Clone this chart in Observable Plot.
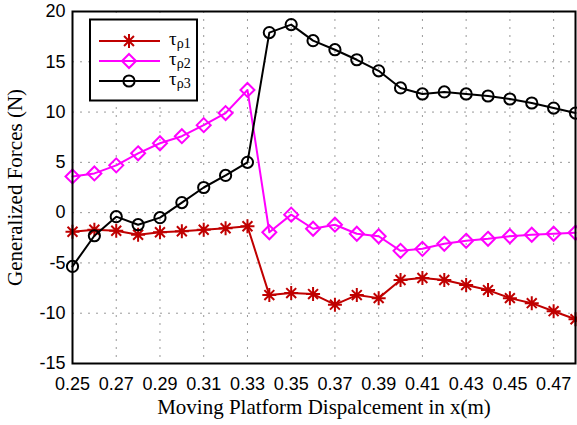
<!DOCTYPE html>
<html>
<head>
<meta charset="utf-8">
<script src="https://cdn.jsdelivr.net/npm/d3@7"></script>
<script src="https://cdn.jsdelivr.net/npm/@observablehq/plot@0.6"></script>
<style>
  body { margin: 0; background: #fff; }
  #wrap { position: relative; width: 577px; height: 425px; }
  #legend { position: absolute; left: 0; top: 0; }
  #wrap svg text { font-family: "Liberation Sans", Arial, sans-serif; }
  #wrap svg g[aria-label$="tick label"] { font-size: 18px; }
  #wrap svg text.serif, #wrap svg g.serif text { font-family: "Liberation Serif", "Times New Roman", serif; }
</style>
</head>
<body>
<div id="wrap"></div>
<script>
const xs = [0.25, 0.26, 0.27, 0.28, 0.29, 0.30, 0.31, 0.32, 0.33, 0.34, 0.35, 0.36,
            0.37, 0.38, 0.39, 0.40, 0.41, 0.42, 0.43, 0.44, 0.45, 0.46, 0.47, 0.48];
const tau1 = [-1.9, -1.7, -1.8, -2.2, -1.95, -1.85, -1.7, -1.55, -1.35, -8.2, -8.0, -8.1,
              -9.15, -8.2, -8.5, -6.7, -6.5, -6.7, -7.2, -7.7, -8.5, -9.0, -9.8, -10.6];
const tau2 = [3.6, 3.9, 4.7, 5.9, 6.9, 7.6, 8.7, 9.9, 12.2, -1.95, -0.2, -1.6,
              -1.2, -2.1, -2.35, -3.8, -3.6, -3.1, -2.8, -2.6, -2.35, -2.2, -2.1, -2.0];
const tau3 = [-5.35, -2.3, -0.4, -1.2, -0.5, 1.0, 2.5, 3.7, 5.0, 17.9, 18.7, 17.1,
              16.2, 15.2, 14.1, 12.4, 11.8, 12.0, 11.8, 11.6, 11.3, 10.9, 10.4, 9.9];
const xTicks = [0.25, 0.27, 0.29, 0.31, 0.33, 0.35, 0.37, 0.39, 0.41, 0.43, 0.45, 0.47];
const yTicks = [-15, -10, -5, 0, 5, 10, 15, 20];
const seriesNames = ["ρ1", "ρ2", "ρ3"];
const colors = ["#c00000", "#ff00ff", "#000000"];

const asterisk8 = {
  draw(ctx, size) {
    const r = Math.sqrt(size / Math.PI);
    for (let i = 0; i < 4; i++) {
      const a = i * Math.PI / 4;
      ctx.moveTo(r * Math.cos(a), r * Math.sin(a));
      ctx.lineTo(-r * Math.cos(a), -r * Math.sin(a));
    }
  }
};
const symbols = [asterisk8, "diamond2", "circle"];
const radii = [7, 6.3, 5.6];

const rows = (vals) => xs.map((x, i) => ({x, y: vals[i]}));
const datasets = [rows(tau1), rows(tau2), rows(tau3)];

const sans = "Liberation Sans";
const serif = "Liberation Serif";

const seriesMarks = datasets.flatMap((d, k) => [
  Plot.line(d, {x: "x", y: "y", stroke: colors[k], strokeWidth: 2}),
  Plot.dot(d, {x: "x", y: "y", symbol: () => symbols[k], r: radii[k], stroke: colors[k], fill: "none", strokeWidth: 2})
]);

const chart = Plot.plot({
  width: 577,
  height: 425,
  marginLeft: 72,
  marginRight: 2,
  marginTop: 11,
  marginBottom: 62,
  style: {fontFamily: sans, fontSize: "18px", color: "#000", background: "#fff"},
  x: {domain: [0.25, 0.48]},
  y: {domain: [-15, 20]},
  symbol: {type: "identity"},
  marks: [
    Plot.gridX(xTicks, {stroke: "#999", strokeOpacity: 1, strokeDasharray: "2,6"}),
    Plot.gridY(yTicks, {stroke: "#999", strokeOpacity: 1, strokeDasharray: "2,6"}),
    ...seriesMarks,
    Plot.axisX(xTicks, {tickSize: 0, tickPadding: 14, tickFormat: d3.format(".2f"), fontSize: 18, fill: "#000", label: null}),
    Plot.axisY(yTicks, {tickSize: 0, tickPadding: 7, fontSize: 18, fill: "#000", label: null, tickFormat: d => String(d)}),
    Plot.text(["Moving Platform Dispalcement in x(m)"], {frameAnchor: "bottom", dy: 50, lineAnchor: "bottom", textAnchor: "middle", fontSize: 21, fontFamily: serif, fill: "#000", className: "serif"}),
    Plot.text(["Generalized Forces (N)"], {frameAnchor: "left", dx: -57, rotate: -90, textAnchor: "middle", fontSize: 21, fontFamily: serif, fill: "#000", className: "serif"}),
    Plot.frame({stroke: "#000", strokeWidth: 2})
  ]
});

const wrap = document.getElementById("wrap");
wrap.appendChild(chart);

// Legend
const leg = d3.select(wrap).append("svg")
  .attr("id", "legend").attr("width", 577).attr("height", 425)
  .style("pointer-events", "none");
leg.append("rect").attr("x", 90).attr("y", 19.5).attr("width", 107).attr("height", 81)
  .attr("fill", "#fff").attr("stroke", "#000").attr("stroke-width", 2);
const rowY = [41, 61, 81];
seriesNames.forEach((name, k) => {
  const g = leg.append("g");
  g.append("line").attr("x1", 99).attr("x2", 160).attr("y1", rowY[k]).attr("y2", rowY[k])
    .attr("stroke", colors[k]).attr("stroke-width", 2);
  const sym = typeof symbols[k] === "string"
    ? (symbols[k] === "diamond2" ? d3.symbolDiamond2 : d3.symbolCircle)
    : symbols[k];
  g.append("path").attr("transform", `translate(129,${rowY[k]})`)
    .attr("d", d3.symbol(sym, Math.PI * radii[k] * radii[k])())
    .attr("fill", "none").attr("stroke", colors[k]).attr("stroke-width", 2);
  const t = g.append("text").attr("class", "serif").attr("x", 169).attr("y", rowY[k] + 4)
    .attr("font-size", 19).attr("fill", "#000");
  t.append("tspan").text("τ");
  t.append("tspan").attr("font-size", 14).attr("dy", 3).text(name);
});
</script>
</body>
</html>
